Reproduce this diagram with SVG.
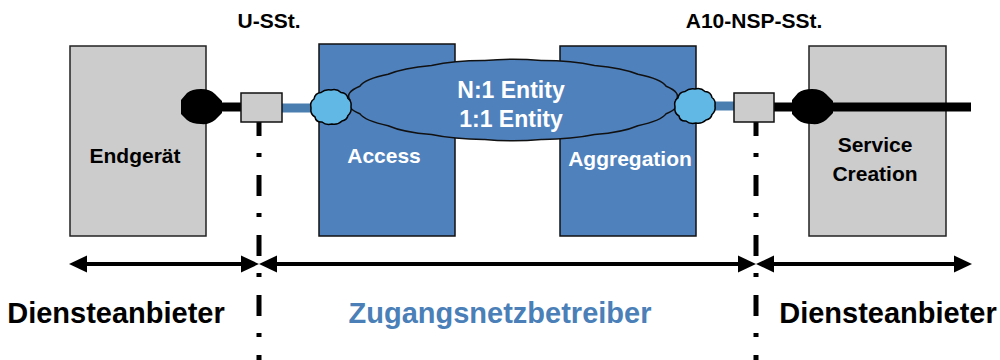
<svg xmlns="http://www.w3.org/2000/svg" xmlns:xlink="http://www.w3.org/1999/xlink" width="1000" height="360" viewBox="0 0 1000 360">
  <style>
    text { font-family: "Liberation Sans", Arial, sans-serif; font-weight: bold; text-anchor: middle; }
    .lbl { font-size: 21px; fill: #000; }
    .lblw { font-size: 21px; fill: #fff; }
    .ent { font-size: 23px; fill: #fff; }
    .big { font-size: 29px; fill: #000; }
    .bigb { font-size: 29px; fill: #4a7fb8; }
    .grey { fill: #cccccc; stroke: #222; stroke-width: 1.5; }
    .blue { fill: #4f81bd; stroke: #111; stroke-width: 1.5; }
    .bar { stroke: #000; stroke-width: 9; }
    .barb { stroke: #4a7eb0; stroke-width: 9; }
    .iface { fill: #cccccc; stroke: #111; stroke-width: 1.5; }
    .port { fill: #000; }
    .lport { fill: #62b8e4; stroke: #000; stroke-width: 1.5; }
    .sep { stroke: #000; stroke-width: 5; stroke-dasharray: 21 17 4 18; fill: none; }
    .span { stroke: #000; stroke-width: 4; }
  </style>
  <defs>
    <!-- dark physical port, centred on origin -->
    <path id="blackPort" d="M-21,-7 L-15,-14 Q-10,-18 -1,-18 Q8,-18 13,-13 L20,-6 L20,6 L13,13 Q7,18 -1,17 Q-10,17 -15,13 L-21,7 Z"/>
    <!-- light logical port, scalloped outline -->
    <path id="lightPort" d="M20,0 Q21,5 17,8.5 Q16,13 11,14 Q7,18 1,17 Q-5,18.5 -9,15 Q-15,15.5 -16,10 Q-21,7 -20,1 Q-21.5,-5 -17,-8 Q-16,-14 -10,-14.5 Q-6,-18 0,-17 Q6,-18.5 10,-14.5 Q16,-14 17,-8.5 Q21,-5.5 20,0 Z"/>
    <!-- arrowhead pointing right, tip at origin -->
    <path id="head" d="M0,0 L-18,-8.5 L-18,8.5 Z"/>
  </defs>

  <!-- interface labels -->
  <text class="lbl" x="269" y="28">U-SSt.</text>
  <text class="lbl" x="754" y="28">A10-NSP-SSt.</text>

  <g id="endgeraet">
    <rect class="grey" x="70" y="46" width="136" height="190"/>
    <text class="lbl" x="135" y="163">Endgerät</text>
  </g>

  <g id="access">
    <rect class="blue" x="319" y="44" width="136" height="192"/>
    <text class="lblw" x="384" y="163">Access</text>
  </g>

  <g id="aggregation">
    <rect class="blue" x="560" y="46" width="136" height="190"/>
    <text class="lblw" x="630" y="166">Aggregation</text>
  </g>

  <g id="service-creation">
    <rect class="grey" x="809" y="46" width="137" height="190"/>
    <text class="lbl" x="875" y="152">Service</text>
    <text class="lbl" x="875" y="181">Creation</text>
  </g>

  <g id="connectors">
    <!-- interface separators -->
    <line class="sep" x1="259" y1="115" x2="259" y2="360"/>
    <line class="sep" x1="756" y1="115" x2="756" y2="360"/>
    <!-- access line bars -->
    <line class="bar" x1="215" y1="107" x2="242" y2="107"/>
    <line class="barb" x1="281" y1="108" x2="315" y2="108"/>
    <line class="barb" x1="710" y1="106" x2="735" y2="106"/>
    <line class="bar" x1="773" y1="107" x2="971" y2="107"/>
    <!-- responsibility spans -->
    <line class="span" x1="86" y1="264" x2="242" y2="264"/>
    <line class="span" x1="276" y1="264" x2="739" y2="264"/>
    <line class="span" x1="773" y1="264" x2="955" y2="264"/>
    <use xlink:href="#head" transform="translate(69,264) scale(-1,1)"/>
    <use xlink:href="#head" transform="translate(259,264)"/>
    <use xlink:href="#head" transform="translate(259,264) scale(-1,1)"/>
    <use xlink:href="#head" transform="translate(756,264)"/>
    <use xlink:href="#head" transform="translate(756,264) scale(-1,1)"/>
    <use xlink:href="#head" transform="translate(972,264)"/>
  </g>

  <g id="entity-cloud">
    <path class="blue" d="M676,100 Q681.5,107.3 666.2,113.7 Q661.2,121 637.9,125.7 Q623,132.2 594.5,134.6 Q571.5,139.5 541.3,139.4 Q513,142 484.7,139.4 Q454.5,139.5 431.5,134.6 Q403,132.2 388.1,125.7 Q364.8,121 359.8,113.7 Q344.5,107.3 350,100 Q344.5,92.7 359.8,86.3 Q364.8,79 388.1,74.3 Q403,67.8 431.5,65.4 Q454.5,60.5 484.7,60.6 Q513,58 541.3,60.6 Q571.5,60.5 594.5,65.4 Q623,67.8 637.9,74.3 Q661.2,79 666.2,86.3 Q681.5,92.7 676,100 Z"/>
    <text class="ent" x="511" y="98">N:1 Entity</text>
    <text class="ent" x="511" y="127">1:1 Entity</text>
  </g>

  <g id="ports">
    <use xlink:href="#blackPort" class="port" transform="translate(202,107)"/>
    <use xlink:href="#blackPort" class="port" transform="translate(813,107)"/>
    <use xlink:href="#lightPort" class="lport" transform="translate(331,107)"/>
    <use xlink:href="#lightPort" class="lport" transform="translate(695,106)"/>
  </g>

  <g id="u-sst">
    <rect class="iface" x="241" y="93" width="41" height="29"/>
  </g>
  <g id="a10-nsp-sst">
    <rect class="iface" x="734" y="93" width="40" height="29"/>
  </g>

  <!-- roles -->
  <text class="big" x="116" y="323">Diensteanbieter</text>
  <text class="bigb" x="500" y="323">Zugangsnetzbetreiber</text>
  <text class="big" x="888" y="323">Diensteanbieter</text>
</svg>
